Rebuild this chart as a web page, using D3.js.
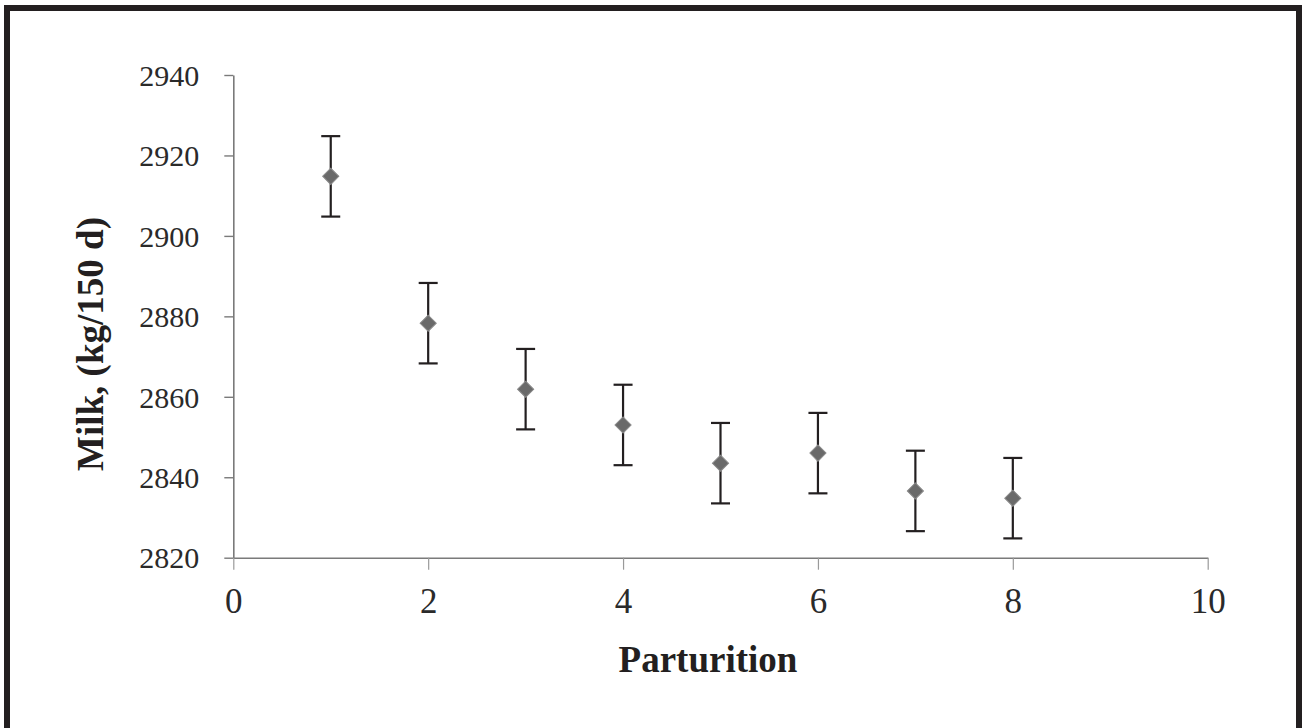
<!DOCTYPE html>
<html>

<head>
  <title>Milk by parturition</title>
  <script src="https://cdn.jsdelivr.net/npm/d3@7"></script>
  <style>
    body { margin: 0; background: #fff; }
  </style>
</head>

<body>
  <svg width="1302" height="728" id="mainsvg"></svg>
  <script>
    // values
    const parturition = [1, 2, 3, 4, 5, 6, 7, 8];
    const milk = [2914.8, 2878.3, 2861.9, 2853.0, 2843.5, 2846.0, 2836.6, 2834.8];
    const stdErr = [10, 10, 10, 10, 10, 10, 10, 10];
    const xTicks = [0, 2, 4, 6, 8, 10];
    const yTicks = [2820, 2840, 2860, 2880, 2900, 2920, 2940];

    const svg = d3.select('#mainsvg');
    const ink = '#231f20';

    // frame (bottom edge runs off the picture)
    svg.append('rect')
      .attr('x', 7).attr('y', 8)
      .attr('width', 1292).attr('height', 760)
      .attr('fill', '#fff')
      .attr('stroke', ink)
      .attr('stroke-width', 6);

    const x = d3.scaleLinear().domain([0, 10]).range([233.3, 1207.7]);
    const y = d3.scaleLinear().domain([2820, 2940]).range([557.7, 75]);

    const serif = '"Liberation Serif", "Times New Roman", serif';

    // y axis
    const gy = svg.append('g')
      .attr('transform', `translate(${x(0)},0)`)
      .call(d3.axisLeft(y).tickValues(yTicks).tickSize(9).tickSizeOuter(0).tickFormat(d3.format('d')));
    gy.select('.domain').attr('stroke', '#7a7a7a').attr('stroke-width', 1.6);
    gy.selectAll('.tick line').attr('stroke', '#7a7a7a').attr('stroke-width', 1.4);
    gy.selectAll('.tick text')
      .attr('x', -34)
      .attr('dy', '0.34em')
      .attr('font-family', serif)
      .attr('font-size', 30)
      .attr('fill', '#2a2a2a');

    // x axis
    const gx = svg.append('g')
      .attr('transform', `translate(0,${y(2820)})`)
      .call(d3.axisBottom(x).tickValues(xTicks).tickSize(12).tickSizeOuter(0));
    gx.select('.domain').attr('stroke', '#7a7a7a').attr('stroke-width', 1.6);
    gx.selectAll('.tick line').attr('stroke', '#9a9a9a').attr('stroke-width', 1.2);
    gx.selectAll('.tick text')
      .attr('y', 55.5)
      .attr('dy', 0)
      .attr('font-family', serif)
      .attr('font-size', 35)
      .attr('fill', '#2a2a2a');

    // error bars
    const bars = svg.append('g')
      .selectAll('g')
      .data(parturition)
      .join('g')
      .attr('stroke', ink)
      .attr('stroke-width', 2.2);
    bars.append('line')
      .attr('x1', (d) => x(d)).attr('x2', (d) => x(d))
      .attr('y1', (d, i) => y(milk[i] + stdErr[i]))
      .attr('y2', (d, i) => y(milk[i] - stdErr[i]));
    bars.append('line')
      .attr('x1', (d) => x(d) - 9.5).attr('x2', (d) => x(d) + 9.5)
      .attr('y1', (d, i) => y(milk[i] + stdErr[i]))
      .attr('y2', (d, i) => y(milk[i] + stdErr[i]));
    bars.append('line')
      .attr('x1', (d) => x(d) - 9.5).attr('x2', (d) => x(d) + 9.5)
      .attr('y1', (d, i) => y(milk[i] - stdErr[i]))
      .attr('y2', (d, i) => y(milk[i] - stdErr[i]));

    // diamonds
    svg.append('g')
      .selectAll('path')
      .data(parturition)
      .join('path')
      .attr('d', d3.symbol(d3.symbolSquare, 130))
      .attr('transform', (d, i) => `translate(${x(d)},${y(milk[i])}) rotate(45)`)
      .attr('fill', '#6a6a6a')
      .attr('stroke', '#8a8a8a')
      .attr('stroke-width', 1);

    // axis titles
    svg.append('text')
      .attr('x', 708)
      .attr('y', 672)
      .attr('text-anchor', 'middle')
      .attr('font-family', serif)
      .attr('font-weight', 'bold')
      .attr('font-size', 37)
      .attr('fill', ink)
      .text('Parturition');

    svg.append('text')
      .attr('transform', 'translate(103,344) rotate(-90)')
      .attr('text-anchor', 'middle')
      .attr('font-family', serif)
      .attr('font-weight', 'bold')
      .attr('font-size', 37)
      .attr('fill', ink)
      .text('Milk, (kg/150 d)');
  </script>
</body>

</html>
